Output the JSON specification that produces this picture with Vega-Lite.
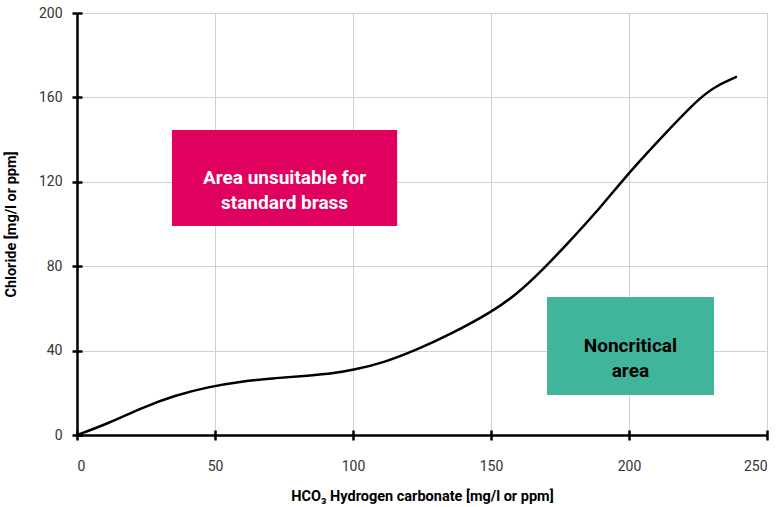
{
  "$schema": "https://vega.github.io/schema/vega-lite/v6.json",
  "autosize": "none",
  "width": 690,
  "height": 422,
  "padding": {"left": 77, "top": 13, "right": 15, "bottom": 72},
  "background": "white",
  "config": {
    "view": {"stroke": "#a6a6a6", "strokeWidth": 1},
    "font": "Roboto",
    "axis": {
      "gridColor": "#d0d0d0",
      "gridWidth": 1,
      "domainColor": "black",
      "domainWidth": 2.5,
      "tickColor": "black",
      "tickWidth": 2.5,
      "tickSize": 5,
      "labelFont": "Roboto",
      "labelFontSize": 14,
      "labelColor": "#333333",
      "titleFont": "Roboto",
      "titleFontWeight": "bold",
      "titleFontSize": 14.5,
      "titleColor": "black"
    }
  },
  "resolve": {"axis": {"x": "independent", "y": "independent"}},
  "layer": [
    {
      "data": {"values": [
        {"zone": "unsuitable", "x1": 34.4, "x2": 116, "y1": 99, "y2": 144.5},
        {"zone": "noncritical", "x1": 170.3, "x2": 230.8, "y1": 19, "y2": 65.4}
      ]},
      "mark": {"type": "rect"},
      "encoding": {
        "x": {"field": "x1", "type": "quantitative", "scale": {"domain": [0, 250], "nice": false},
          "axis": {"orient": "bottom", "grid": true, "values": [0, 50, 100, 150, 200, 250], "title": "HCO₃ Hydrogen carbonate [mg/l or ppm]", "labelPadding": 19, "titlePadding": 16}},
        "x2": {"field": "x2"},
        "y": {"field": "y1", "type": "quantitative", "scale": {"domain": [0, 200], "nice": false},
          "axis": {"orient": "left", "grid": true, "values": [0, 40, 80, 120, 160, 200], "title": "Chloride [mg/l or ppm]", "labelPadding": 10, "titlePadding": 20}},
        "y2": {"field": "y2"},
        "color": {"field": "zone", "type": "nominal", "scale": {"domain": ["unsuitable", "noncritical"], "range": ["#E0005E", "#40B59B"]}, "legend": null}
      }
    },
    {
      "data": {"values": [
        {"zone": "unsuitable", "label": "Area unsuitable for\nstandard brass", "x": 75.2, "y": 121.7},
        {"zone": "noncritical", "label": "Noncritical\narea", "x": 200.5, "y": 42.2}
      ]},
      "mark": {"type": "text", "lineBreak": "\n", "font": "Roboto", "fontWeight": "bold", "fontSize": 19, "lineHeight": 25, "align": "center", "baseline": "middle"},
      "encoding": {
        "x": {"field": "x", "type": "quantitative", "scale": {"domain": [0, 250], "nice": false},
          "axis": {"orient": "bottom", "grid": false, "values": [0, 50, 100, 150, 200, 250], "tickSize": -5, "labels": false, "domain": false, "title": null}},
        "y": {"field": "y", "type": "quantitative", "scale": {"domain": [0, 200], "nice": false},
          "axis": {"orient": "left", "grid": false, "values": [0, 40, 80, 120, 160, 200], "tickSize": -5, "labels": false, "domain": false, "title": null}},
        "text": {"field": "label"},
        "color": {"condition": {"test": "datum.zone === 'unsuitable'", "value": "white"}, "value": "black"}
      }
    },
    {
      "data": {"values": [
        {"hco3": 0, "cl": 0},
        {"hco3": 11.4, "cl": 5.5},
        {"hco3": 23.4, "cl": 12.9},
        {"hco3": 35.5, "cl": 18.8},
        {"hco3": 47.6, "cl": 22.8},
        {"hco3": 59.7, "cl": 25.4},
        {"hco3": 71.7, "cl": 27.0},
        {"hco3": 83.8, "cl": 28.1},
        {"hco3": 93.5, "cl": 29.3},
        {"hco3": 100, "cl": 30.8},
        {"hco3": 111, "cl": 34.2},
        {"hco3": 123.1, "cl": 40.4},
        {"hco3": 135.1, "cl": 47.6},
        {"hco3": 150, "cl": 58.1},
        {"hco3": 159.3, "cl": 66.6},
        {"hco3": 168.9, "cl": 78.5},
        {"hco3": 177.4, "cl": 90.3},
        {"hco3": 189.5, "cl": 107.5},
        {"hco3": 200.1, "cl": 124.6},
        {"hco3": 213.7, "cl": 143.8},
        {"hco3": 225.8, "cl": 160.2},
        {"hco3": 231.9, "cl": 165.6},
        {"hco3": 239.1, "cl": 169.8}
      ]},
      "mark": {"type": "line", "color": "black", "strokeWidth": 2.5, "interpolate": "basis"},
      "encoding": {
        "x": {"field": "hco3", "type": "quantitative", "scale": {"domain": [0, 250], "nice": false}, "axis": null},
        "y": {"field": "cl", "type": "quantitative", "scale": {"domain": [0, 200], "nice": false}, "axis": null}
      }
    }
  ]
}
